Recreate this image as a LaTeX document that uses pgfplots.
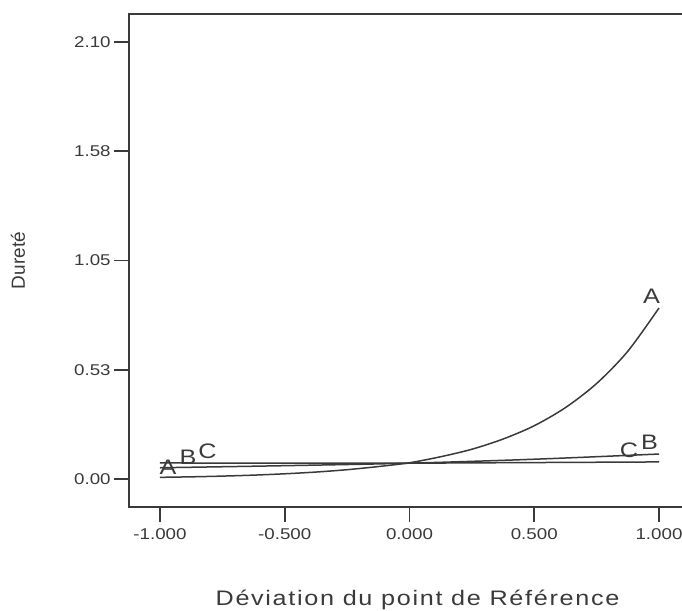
\documentclass[border=0pt]{standalone}
\usepackage{fontspec}
\setmainfont{Liberation Sans}
\newfontfamily\wide[FakeStretch=1.2]{Liberation Sans}
\newfontfamily\widesp[FakeStretch=1.2,LetterSpace=8]{Liberation Sans}
\usepackage{pgfplots}
\pgfplotsset{compat=1.18}
\definecolor{ink}{HTML}{3A3A3A}

\begin{document}
\begin{tikzpicture}
\begin{axis}[
    name=ax,
    scale only axis,
    width=276.5pt, height=246.5pt,
    xmin=-1.1242, xmax=1.0922,
    ymin=-0.1346, ymax=2.2346,
    axis line style={draw=none},
    tick align=outside,
    xtick pos=bottom, ytick pos=left,
    major tick length=7.5pt,
    tick style={ink, line width=0.8pt},
    xtick={-1,-0.5,0,0.5,1},
    xticklabels={-1.000,-0.500,0.000,0.500,1.000},
    ytick={0,0.525,1.05,1.575,2.1},
    yticklabels={0.00,0.53,1.05,1.58,2.10},
    ticklabel style={font=\wide\fontsize{7.8}{9}\selectfont, text=ink},
    yticklabel style={inner sep=1.5pt},
    clip=false,
]
% A
\addplot[ink, line width=0.75pt, smooth] coordinates {
    (-1,0.008) (-0.875,0.0104) (-0.75,0.0139) (-0.625,0.0186)
    (-0.5,0.025) (-0.375,0.0334) (-0.25,0.0447) (-0.125,0.0598)
    (0,0.078) (0.125,0.107) (0.25,0.143) (0.375,0.192)
    (0.5,0.256) (0.625,0.343) (0.75,0.459) (0.875,0.614) (1,0.822)
};
% B
\addplot[ink, line width=0.75pt, smooth] coordinates {
    (-1,0.054) (-0.5,0.064) (0,0.076) (0.5,0.095) (1,0.120)
};
% C
\addplot[ink, line width=0.75pt] coordinates {
    (-1,0.077) (0,0.076) (1,0.082)
};
\draw[ink, line width=0.9pt] (rel axis cs:1,1) -- (rel axis cs:0,1)
    -- (rel axis cs:0,0) -- (rel axis cs:1,0);
\begin{scope}[every node/.style={font=\wide\fontsize{10.5}{11}\selectfont, text=ink, inner sep=0pt}]
\node at (axis cs:-0.968,0.058) {A};
\node at (axis cs:-0.888,0.106) {B};
\node at (axis cs:-0.810,0.132) {C};
\node at (axis cs:0.970,0.880) {A};
\node at (axis cs:0.880,0.137) {C};
\node at (axis cs:0.962,0.176) {B};
\end{scope}
\end{axis}
\node[font=\widesp\fontsize{10.5}{12}\selectfont, text=ink] at ([xshift=6pt,yshift=-46.5pt]ax.south) {Déviation du point de Référence};
\node[font=\fontsize{9.5}{11}\selectfont, text=ink, rotate=90] at ([xshift=-55.5pt]ax.west) {Dureté};
\pgfresetboundingbox
\path[use as bounding box] ([xshift=-64.5pt,yshift=-51.5pt]ax.south west) rectangle ([yshift=7pt]ax.north east);
\end{tikzpicture}
\end{document}
